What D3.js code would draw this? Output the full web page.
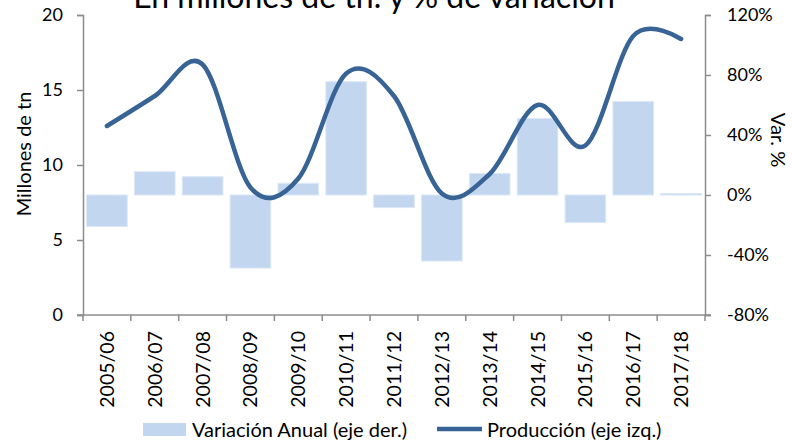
<!DOCTYPE html>
<html>
<head>
<meta charset="utf-8">
<script src="https://cdn.jsdelivr.net/npm/d3@7"></script>
<style>
  body { margin: 0; background: #fff; }
  #viz { width: 792px; height: 441px; }
  text { font-family: Lato, "Open Sans", sans-serif; fill: #000; }
</style>
</head>
<body>
<div id="viz"></div>
<script>
// -----------------------------
// DATA
// -----------------------------
const campaigns = ["2005/06", "2006/07", "2007/08", "2008/09", "2009/10", "2010/11", "2011/12",
                   "2012/13", "2013/14", "2014/15", "2015/16", "2016/17", "2017/18"];
// production, millions of tn (left axis)
const production = [12.6, 14.6, 16.7, 8.5, 9.1, 16.1, 14.6, 8.1, 9.4, 14.0, 11.3, 18.6, 18.4];
// annual variation, % (right axis)
const variation = [-21, 15.5, 12.2, -48.7, 7.8, 75.5, -8.4, -44, 14.4, 51, -18.4, 62.4, 1];
const leftTicks = [0, 5, 10, 15, 20];
const rightTicks = [-80, -40, 0, 40, 80, 120];

const width = 792, height = 441;
const margin = { top: 15, right: 87, bottom: 126, left: 83 };

const svg = d3.select("#viz")
  .append("svg")
  .attr("width", width)
  .attr("height", height);

const x = d3.scaleBand()
  .domain(campaigns)
  .range([margin.left, width - margin.right])
  .paddingInner(0.15)
  .paddingOuter(0.075);

const yL = d3.scaleLinear().domain([0, 20]).range([height - margin.bottom, margin.top]);
const yR = d3.scaleLinear().domain([-80, 120]).range([height - margin.bottom, margin.top]);

const axisColor = "#8c8c8c";

// -----------------------------
// TITLE (cut at the top)
// -----------------------------
svg.append("text")
  .attr("x", 374)
  .attr("y", 8)
  .attr("text-anchor", "middle")
  .style("font-size", "32px")
  .text("En millones de tn. y % de variación");

// -----------------------------
// BARS
// -----------------------------
svg.append("g")
  .selectAll("rect")
  .data(variation)
  .join("rect")
  .attr("x", (d, i) => x(campaigns[i]))
  .attr("width", x.bandwidth())
  .attr("y", d => yR(Math.max(0, d)))
  .attr("height", d => Math.abs(yR(d) - yR(0)))
  .attr("fill", "#c2d6ef")
  .attr("stroke", "#dce8f7")
  .attr("stroke-width", 1);

// -----------------------------
// LINE
// -----------------------------
const line = d3.line()
  .x((d, i) => x(campaigns[i]) + x.bandwidth() / 2)
  .y(d => yL(d))
  .curve(d3.curveCardinal.tension(0));

svg.append("path")
  .datum(production)
  .attr("d", line)
  .attr("fill", "none")
  .attr("stroke", "#386395")
  .attr("stroke-width", 4.5)
  .attr("stroke-linecap", "round");

// -----------------------------
// AXES
// -----------------------------
const gL = svg.append("g")
  .attr("transform", `translate(${margin.left},0)`)
  .call(d3.axisLeft(yL).tickValues(leftTicks).tickSize(6).tickPadding(14));

const gR = svg.append("g")
  .attr("transform", `translate(${width - margin.right},0)`)
  .call(d3.axisRight(yR).tickValues(rightTicks).tickSize(6).tickPadding(16)
    .tickFormat(d => d + "%"));

// bottom axis: ticks at category boundaries
const gB = svg.append("g")
  .attr("transform", `translate(0,${height - margin.bottom})`);
gB.append("line")
  .attr("x1", margin.left - 6).attr("x2", width - margin.right + 6)
  .attr("stroke", axisColor).attr("stroke-width", 1.5);
const step = x.step();
gB.selectAll("line.tk")
  .data(d3.range(campaigns.length + 1))
  .join("line")
  .attr("class", "tk")
  .attr("x1", i => margin.left + i * step)
  .attr("x2", i => margin.left + i * step)
  .attr("y1", 0).attr("y2", 6)
  .attr("stroke", axisColor).attr("stroke-width", 1.5);
gB.selectAll("text")
  .data(campaigns)
  .join("text")
  .attr("transform", d => `translate(${x(d) + x.bandwidth() / 2 + 7},16) rotate(-90)`)
  .attr("text-anchor", "end")
  .style("font-size", "19.5px")
  .text(d => d);

[gL, gR].forEach(g => {
  g.select(".domain").attr("stroke", axisColor).attr("stroke-width", 1.5);
  g.selectAll(".tick line").attr("stroke", axisColor).attr("stroke-width", 1.5);
  g.selectAll(".tick text").style("font-size", "18px").attr("fill", "#000");
});

// -----------------------------
// AXIS TITLES
// -----------------------------
svg.append("text")
  .attr("transform", "translate(31,154) rotate(-90)")
  .attr("text-anchor", "middle")
  .style("font-size", "20px")
  .text("Millones de tn");

svg.append("text")
  .attr("transform", "translate(771,140) rotate(90)")
  .attr("text-anchor", "middle")
  .style("font-size", "20px")
  .text("Var. %");

// -----------------------------
// LEGEND
// -----------------------------
const lg = svg.append("g");
lg.append("rect")
  .attr("x", 143).attr("y", 423).attr("width", 43).attr("height", 13)
  .attr("fill", "#c2d6ef");
lg.append("text")
  .attr("x", 192).attr("y", 437)
  .style("font-size", "20px")
  .text("Variación Anual (eje der.)");
lg.append("line")
  .attr("x1", 437).attr("x2", 482).attr("y1", 429).attr("y2", 429)
  .attr("stroke", "#386395").attr("stroke-width", 4.5);
lg.append("text")
  .attr("x", 487).attr("y", 437)
  .style("font-size", "20px")
  .text("Producción (eje izq.)");
</script>
</body>
</html>
